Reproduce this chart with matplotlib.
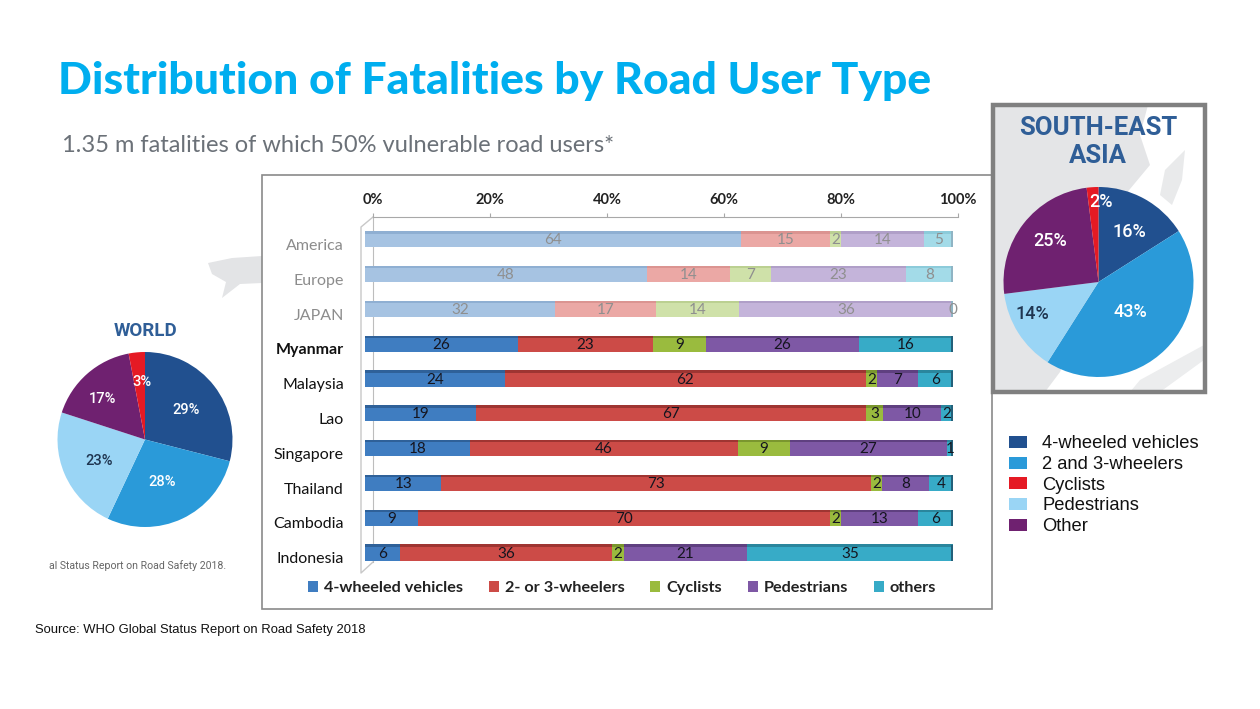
import matplotlib
matplotlib.use("Agg")
import matplotlib.pyplot as plt
import numpy as np
from matplotlib.patches import Patch, Rectangle, Polygon
from matplotlib import font_manager as fm

W, H = 1260, 709

countries = ["America", "Europe", "JAPAN", "Myanmar", "Malaysia", "Lao", "Singapore", "Thailand", "Cambodia", "Indonesia"]
four_wheel = [64, 48, 32, 26, 24, 19, 18, 13, 9, 6]
two_three = [15, 14, 17, 23, 62, 67, 46, 73, 70, 36]
cyclists = [2, 7, 14, 9, 2, 3, 9, 2, 2, 2]
pedestrians = [14, 23, 36, 26, 7, 10, 27, 8, 13, 21]
others = [5, 8, 0, 16, 6, 2, 1, 4, 6, 35]
bar_series = ["4-wheeled vehicles", "2- or 3-wheelers", "Cyclists", "Pedestrians", "others"]
x_ticks = [0, 20, 40, 60, 80, 100]

pie_labels = ["4-wheeled vehicles", "2 and 3-wheelers", "Pedestrians", "Other", "Cyclists"]
world_vals = [29, 28, 23, 17, 3]
sea_vals = [16, 43, 14, 25, 2]
pie_colors = ["#21508F", "#2A9AD9", "#9AD5F5", "#6F2170", "#E51A24"]

strong = ["#3F7DC1", "#CC4B47", "#9ABB3E", "#7E58A5", "#37ABC7"]
pale = ["#A6C3E2", "#EBA8A5", "#CFE1A9", "#C4B4DA", "#A3DBE8"]
strong_top = ["#2F6199", "#9E3532", "#7A962E", "#5F4080", "#2A869D"]
pale_top = ["#8FAFD2", "#DB9491", "#BBD091", "#B09FC8", "#8CCBDA"]

names = {f.name for f in fm.fontManager.ttflist}
narrow = "Liberation Sans Narrow" if "Liberation Sans Narrow" in names else "Roboto"


def px_axes(l, t, r, b, **kw):
    return fig.add_axes([l / W, 1 - b / H, (r - l) / W, (b - t) / H], **kw)


def px_text(x, y, s, **kw):
    kw.setdefault("ha", "center")
    kw.setdefault("va", "center")
    return fig.text(x / W, 1 - y / H, s, **kw)


fig = plt.figure(figsize=(W / 100, H / 100), dpi=100, facecolor="white")

# page overlay for panel frames and map shapes
bg = px_axes(0, 0, W, H)
bg.set_xlim(0, W)
bg.set_ylim(H, 0)
bg.axis("off")
bg.add_patch(Polygon([(208, 263), (232, 258), (262, 256), (262, 283), (240, 284), (222, 298), (226, 282), (212, 274)],
                     fc="#E3E4E6", ec="none"))
bg.add_patch(Rectangle((262, 175), 730, 434, fc="white", ec="#8A8A8A", lw=1.2))
bg.plot([373, 361, 361, 373], [217, 227, 573, 562], color="#C8C8C8", lw=1)
bg.add_patch(Polygon([(993, 105), (1148, 105), (1140, 135), (1150, 165), (1125, 195), (1100, 282), (1060, 372),
                      (1045, 392), (993, 392)], fc="#E4E5E7", ec="none"))
bg.add_patch(Polygon([(1185, 150), (1165, 170), (1160, 195), (1172, 205), (1182, 180)], fc="#E9EAEB", ec="none"))
bg.add_patch(Polygon([(1140, 380), (1204, 345), (1204, 360), (1160, 392), (1130, 392)], fc="#ECEDEE", ec="none"))
bg.add_patch(Rectangle((993, 105), 212, 287, fc="none", ec="#808080", lw=3.2))

# axis frame of the bar chart
row0, step = 244.5, 34.8
top, bottom = 217, 580
axis = px_axes(373, top, 958, bottom)
axis.patch.set_alpha(0)
axis.set_xlim(0, 100)
axis.set_ylim((bottom - row0) / step, (top - row0) / step)
for s in ["right", "bottom"]:
    axis.spines[s].set_visible(False)
axis.spines["top"].set_color("#A8A8A8")
axis.spines["left"].set_color("#BDBDBD")
axis.spines["left"].set_bounds((top - row0) / step, (562 - row0) / step)
axis.xaxis.tick_top()
axis.set_xticks(x_ticks)
axis.set_xticklabels([f"{v}%" for v in x_ticks], fontfamily="Lato", fontweight="bold", fontsize=10.5, color="#222222")
axis.tick_params(axis="x", length=3, color="#A8A8A8", pad=4.5)
axis.set_yticks(range(len(countries)))
axis.set_yticklabels(countries, fontfamily="Lato", fontsize=11.5)
axis.tick_params(axis="y", length=0, pad=21)
for i, lab in enumerate(axis.get_yticklabels()):
    lab.set_color("#8C8C8C" if i < 3 else "#111111")
    if countries[i] == "Myanmar":
        lab.set_fontweight("bold")

# stacked bars, each row scaled to 100 %
bars = px_axes(365, 222, 953, 222 + step * 10)
bars.patch.set_alpha(0)
bars.set_xlim(0, 100)
bars.set_ylim(9.5, -0.5)
bars.axis("off")
table = np.array([four_wheel, two_three, cyclists, pedestrians, others], dtype=float)
share = table / table.sum(axis=0) * 100
left = np.zeros(len(countries))
ypos = np.arange(len(countries))
for k in range(5):
    cols = [pale[k] if i < 3 else strong[k] for i in ypos]
    tops = [pale_top[k] if i < 3 else strong_top[k] for i in ypos]
    bars.barh(ypos, share[k], left=left, height=0.46, color=cols, lw=0)
    bars.barh(ypos - 0.2, share[k], left=left, height=0.07, color=tops, lw=0)
    for i in ypos:
        v = int(table[k, i])
        bars.text(left[i] + share[k, i] / 2, i + 0.03, str(v), ha="center", va="center",
                  fontfamily="Lato", fontsize=11, color="#8F8F8F" if i < 3 else "#15151F")
    left += share[k]
bars.barh(ypos, [0.5] * len(ypos), left=left - 0.3, height=0.46,
          color=["#8FB4C4" if i < 3 else "#23607A" for i in ypos], lw=0)

# bar chart legend
fig.legend(handles=[Patch(fc=c) for c in strong], labels=bar_series, loc="center",
           bbox_to_anchor=(622 / W, 1 - 588 / H), ncols=5, frameon=False,
           prop=fm.FontProperties(family="Lato", weight="bold", size=11.7),
           handlelength=0.62, handleheight=0.7, handletextpad=0.35, columnspacing=1.6, labelcolor="#222222")

# pies
def pie(cx, cy, r, vals):
    ax = px_axes(cx - r, cy - r, cx + r, cy + r)
    ax.pie(vals, colors=pie_colors, startangle=90, counterclock=False, radius=1,
           wedgeprops={"lw": 0})
    ax.set_xlim(-1, 1)
    ax.set_ylim(-1, 1)
    ax.set_aspect("equal")
    return ax


pie(145, 439.5, 87.5, world_vals)
pie(1098.5, 282, 95, sea_vals)

world_pos = [(186, 410), (162, 482), (99, 461), (102, 399), (142, 382)]
sea_pos = [(1129, 232), (1130, 312), (1032, 314), (1050, 241), (1101, 202)]
for v, p, dark in zip(world_vals, world_pos, [0, 0, 1, 0, 0]):
    px_text(*p, f"{v}%", fontfamily="Roboto", fontsize=10.5, fontweight="medium", color="#1F3550" if dark else "white")
for v, p, dark in zip(sea_vals, sea_pos, [0, 0, 1, 0, 0]):
    px_text(*p, f"{v}%", fontfamily=narrow, fontsize=13, fontweight="medium", color="#1F3550" if dark else "white")

px_text(145, 331, "WORLD", fontfamily=narrow, fontweight="bold", fontsize=13.5, color="#2F5E97")
px_text(1098, 128, "SOUTH-EAST", fontfamily=narrow, fontweight="bold", fontsize=18.5, color="#2F5E97")
px_text(1098, 156, "ASIA", fontfamily=narrow, fontweight="bold", fontsize=18.5, color="#2F5E97")
px_text(49, 566, "al Status Report on Road Safety 2018.", ha="left", fontfamily="Roboto", fontsize=7.6, color="#666666")

# right legend
order = [0, 1, 4, 2, 3]
fig.legend(handles=[Patch(fc=pie_colors[i]) for i in order], labels=[pie_labels[i] for i in order],
           loc="upper left", bbox_to_anchor=(992 / W, 1 - 419 / H), frameon=False,
           prop=fm.FontProperties(family="Liberation Sans", size=13.2),
           handlelength=1.0, handleheight=0.62, handletextpad=0.85, labelspacing=0.2, labelcolor="#111111")

# headings
px_text(58, 81, "Distribution of Fatalities by Road User Type", ha="left", fontfamily="Lato",
        fontweight="black", fontsize=32, color="#00AEEF")
px_text(62, 145, "1.35 m fatalities of which 50% vulnerable road users*", ha="left", fontfamily="Lato",
        fontsize=17, color="#6B7178")
px_text(35, 630, "Source: WHO Global Status Report on Road Safety 2018", ha="left", fontfamily="Liberation Sans",
        fontsize=9.4, color="#111111")

fig.savefig("out.png", dpi=100)
